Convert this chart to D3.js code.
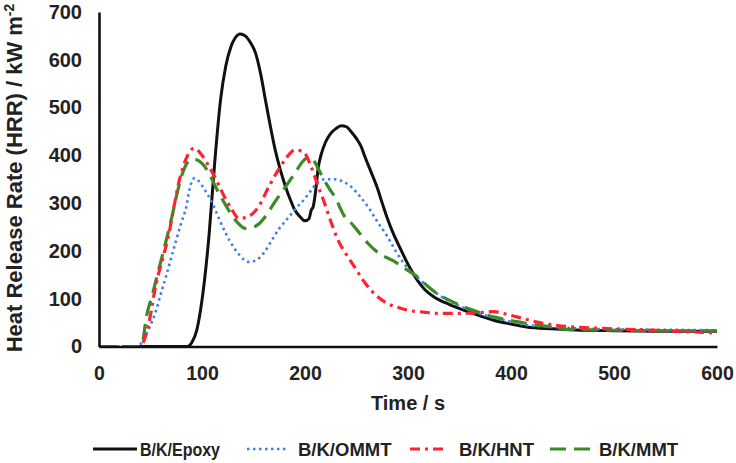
<!DOCTYPE html>
<html>
<head>
<meta charset="utf-8">
<script src="https://cdn.jsdelivr.net/npm/d3@7/dist/d3.min.js"></script>
<style>
  html, body { margin: 0; padding: 0; background: #fff; }
  text { font-family: "Liberation Sans", Arial, sans-serif; font-weight: bold; fill: #222; }
</style>
</head>
<body>
<div id="chart"></div>
<script>
// series data: time (s) and heat release rate (kW m-2)
const epoxyT = [0, 39, 86, 90, 95, 100, 107, 112, 118, 123, 128, 132, 137, 142, 147, 152, 157, 161.5, 166, 171, 176, 181, 186, 190, 195, 200, 204, 206, 208, 210, 213, 216, 220, 225, 230, 235, 240, 245, 250, 254.6, 258, 264, 270, 275, 280, 286, 293, 300, 309, 316, 325, 340, 354, 370, 383, 400, 415, 440, 463, 500, 550, 600];
const epoxyV = [null, 0, 0, 8, 35, 97, 237, 376, 516, 586, 627, 645, 654, 650, 636, 614, 570, 517, 465, 412, 370, 335, 306, 286, 272, 263, 268, 285, 293, 320, 376, 404, 428, 446, 456, 462, 460, 449, 435, 418, 398, 366, 333, 300, 268, 235, 203, 172, 139, 120, 104, 88, 76, 64, 55, 47, 41, 37, 34.5, 33, 32, 32];

const ommtT = [0, 20, 38, 42.7, 49, 55.5, 60, 65, 70, 75, 80, 84.5, 88, 92.5, 97, 102, 110, 117, 123, 130, 137, 145, 152, 160, 168, 175, 182, 190, 200, 207, 213, 220, 227, 235, 245, 253, 261, 270, 280, 288, 296, 305, 315.6, 330, 344.5, 360, 380, 400, 415, 440, 463, 500, 550, 600];
const ommtV = [0, 0, 0, 13.6, 40, 76, 110, 146, 185, 223, 260, 290, 330, 352, 346, 330, 300, 265, 237, 210, 190, 177, 180, 196, 223, 247, 265, 286, 310, 330, 345, 350, 350, 347, 334, 315, 293, 262, 230, 200, 174, 152, 132, 108, 90, 76, 62, 52, 45, 41, 38, 36, 35, 34];

const hntT = [0, 39.5, 42, 48, 55.5, 62, 68, 73, 78, 84, 92.5, 100, 107, 114, 120, 128, 136, 145, 155, 165, 174, 182, 190, 198, 206, 212, 219, 225, 232, 240, 248, 256, 264, 270.6, 280, 290, 299.5, 315, 328, 354, 370, 383, 395, 405.5, 420, 431, 445, 460, 500, 550, 600];
const hntV = [0, 0, 5, 45, 132, 185, 237, 295, 348, 390, 415, 400, 376, 348, 321, 290, 268, 272, 293, 335, 369, 395, 411, 408, 376, 340, 300, 262, 223, 193, 167, 140, 118, 104, 90, 82, 76, 72, 69.5, 69.5, 71, 73, 68, 62, 54, 48.5, 44, 41, 37, 33, 28];

const mmtT = [0, 38, 42, 46, 52, 58.7, 65, 71.6, 76, 81, 86, 92.5, 100, 107, 113, 120, 128, 135, 142, 150, 156, 161.5, 170, 181, 190, 197, 203, 208, 216, 222.5, 229, 238.5, 245, 253, 261, 270.6, 286.7, 298, 309, 318, 328, 340, 354, 368, 383, 400, 415, 435, 454, 500, 550, 600];
const mmtV = [0, 0, 8, 62, 110, 167, 220, 279, 322, 362, 385, 392, 383, 362, 335, 307, 278, 258, 247, 250, 258, 272, 300, 334, 362, 385, 396, 390, 359, 334, 313, 272, 258, 237, 216, 197, 178, 162, 146, 128, 111, 97, 83, 72, 62, 54, 48.5, 42, 36, 34, 33, 33];

const seriesNames = ["B/K/Epoxy", "B/K/OMMT", "B/K/HNT", "B/K/MMT"];
const xTicks = [0, 100, 200, 300, 400, 500, 600];
const yTicks = [0, 100, 200, 300, 400, 500, 600, 700];

// styles per series
const styles = {
  "B/K/Epoxy": { color: "#111111", width: 3, dash: null },
  "B/K/OMMT": { color: "#3f7fe6", width: 2.6, dash: "2.5,3.5" },
  "B/K/HNT": { color: "#ff2233", width: 3.2, dash: "10,5,3,5" },
  "B/K/MMT": { color: "#3a8a25", width: 3.2, dash: "16,8" }
};

const width = 736, height = 463;
const margin = { left: 99, right: 19, top: 12, bottom: 116.5 };

const svg = d3.select("#chart")
  .append("svg")
  .attr("width", width)
  .attr("height", height);

svg.append("rect").attr("width", width).attr("height", height).attr("fill", "#fff");

const x = d3.scaleLinear().domain([0, 600]).range([margin.left, width - margin.right]);
const y = d3.scaleLinear().domain([0, 700]).range([height - margin.bottom, margin.top]);

// build the series from the arrays
const series = [
  { name: seriesNames[0], pts: epoxyT.map((t, i) => [t, epoxyV[i]]) },
  { name: seriesNames[1], pts: ommtT.map((t, i) => [t, ommtV[i]]) },
  { name: seriesNames[2], pts: hntT.map((t, i) => [t, hntV[i]]) },
  { name: seriesNames[3], pts: mmtT.map((t, i) => [t, mmtV[i]]) }
];

const line = d3.line()
  .defined(d => d[1] !== null)
  .x(d => x(d[0]))
  .y(d => y(d[1]))
  .curve(d3.curveMonotoneX);

// draw order: epoxy, ommt, mmt, hnt
[0, 1, 3, 2].forEach(i => {
  const s = series[i];
  const st = styles[s.name];
  svg.append("path")
    .datum(s.pts)
    .attr("fill", "none")
    .attr("stroke", st.color)
    .attr("stroke-width", st.width)
    .attr("stroke-dasharray", st.dash)
    .attr("stroke-linejoin", "round")
    .attr("d", line);
});

// x axis
const xAxis = svg.append("g")
  .attr("transform", "translate(0," + y(0) + ")")
  .call(d3.axisBottom(x).tickValues(xTicks).tickSize(0).tickSizeOuter(0).tickPadding(20));
xAxis.select(".domain").attr("stroke", "#111").attr("stroke-width", 2.6);
xAxis.selectAll("text").style("font-size", "19.5px").attr("fill", "#222");

// y axis
const yAxis = svg.append("g")
  .attr("transform", "translate(" + x(0) + ",0)")
  .call(d3.axisLeft(y).tickValues(yTicks).tickSize(0).tickSizeOuter(0).tickPadding(17));
yAxis.select(".domain").attr("stroke", "#111").attr("stroke-width", 2.6);
yAxis.selectAll("text").style("font-size", "20px").attr("fill", "#222");

// axis titles
svg.append("text")
  .attr("x", (x(0) + x(600)) / 2)
  .attr("y", 410)
  .attr("text-anchor", "middle")
  .style("font-size", "20px")
  .text("Time / s");

const yTitle = svg.append("text")
  .attr("transform", "translate(21.5,178) rotate(-90)")
  .attr("text-anchor", "middle")
  .style("font-size", "22px");
yTitle.append("tspan").text("Heat Release Rate (HRR) / kW m");
yTitle.append("tspan").attr("dy", -8).style("font-size", "14px").text("-2");

// legend
const legendX = [93, 247, 410, 550];
const legendLen = [44, 41, 37, 47];
const legendGap = [3, 10, 12, 2];
const legendY = 449;
series.forEach((s, i) => {
  const st = styles[s.name];
  svg.append("line")
    .attr("x1", legendX[i])
    .attr("x2", legendX[i] + legendLen[i])
    .attr("y1", legendY)
    .attr("y2", legendY)
    .attr("stroke", st.color)
    .attr("stroke-width", st.width)
    .attr("stroke-dasharray", st.dash);
  const t = svg.append("text")
    .attr("x", legendX[i] + legendLen[i] + legendGap[i])
    .attr("y", legendY + 6.5)
    .style("font-size", "18.5px")
    .text(s.name);
  if (i === 0) t.attr("textLength", 80).attr("lengthAdjust", "spacingAndGlyphs");
});
</script>
</body>
</html>
